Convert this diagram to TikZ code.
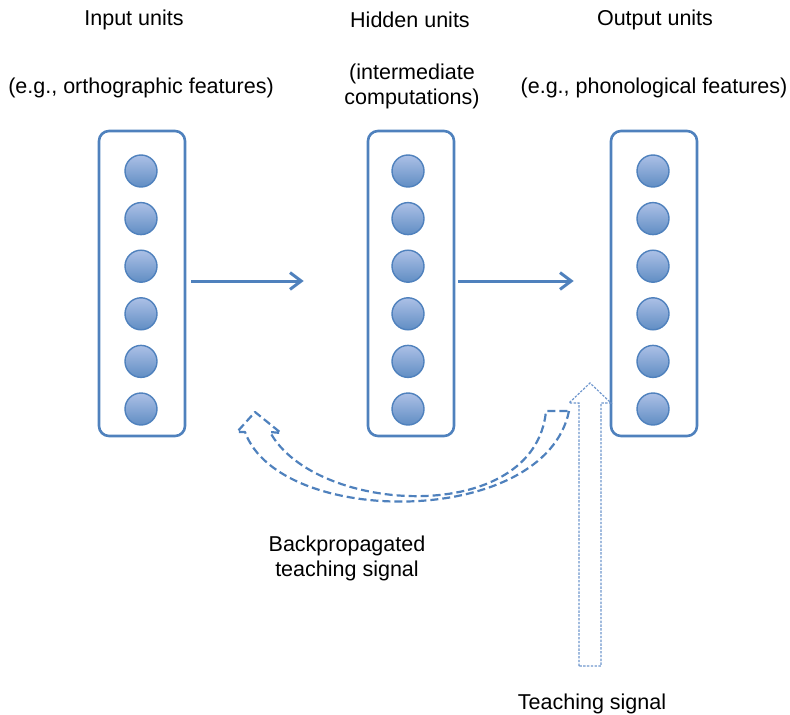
\documentclass[tikz,border=0pt]{standalone}
\usepackage{fontspec}
\setmainfont{Liberation Sans}
\usepackage{xcolor}
\usetikzlibrary{positioning}
\usetikzlibrary{arrows.meta}
\definecolor{officeblue}{RGB}{79,129,189}
\definecolor{lightunit}{RGB}{172,192,230}
\definecolor{dotblue}{RGB}{110,150,205}

\begin{document}
\begin{tikzpicture}[x=0.25mm, y=-0.25mm, font=\fontsize{15.3}{17.8}\selectfont]
    \tikzstyle{layer}=[draw=officeblue, line width=0.65mm, rounded corners=2.5mm, minimum width=21.5mm, minimum height=76.25mm, inner sep=0pt]
    \tikzstyle{unit}=[circle, draw=officeblue, line width=0.35mm, top color=lightunit, bottom color=officeblue!90, minimum size=8mm, inner sep=0pt]
    \tikzstyle{flow}=[draw=officeblue, line width=0.75mm, -{Straight Barb[length=2.8mm, width=4.2mm, line width=0.75mm]}]
    \tikzstyle{backsig}=[draw=officeblue, line width=0.55mm, dash pattern=on 2mm off 1mm, line join=round]
    \tikzstyle{teachsig}=[draw=dotblue, line width=0.3mm, dash pattern=on 0.6mm off 0.35mm]
    \tikzstyle{label}=[align=center, inner sep=0pt]

    \useasboundingbox (0,0) rectangle (790,715);

    % layers
    \node[layer] (inbox) at (142,283.5) {};
    \node[layer] (hidbox) at (411,283.5) {};
    \node[layer] (outbox) at (654,283.5) {};

    \foreach \i in {1,...,6} {
        \node[unit] (in\i) at (141,{171+47.6*(\i-1)}) {};
        \node[unit] (hid\i) at (408,{171+47.6*(\i-1)}) {};
        \node[unit] (out\i) at (653,{171+47.6*(\i-1)}) {};
    }

    % headings
    \node[label] (inhead) at (134,20) {Input units};
    \node[label] (hidhead) at (410,20) {Hidden units};
    \node[label] (outhead) at (655,20) {Output units};
    \node[label] (indesc) at (141,88) {(e.g., orthographic features)};
    \node[label] (hiddesc) at (412,86) {(intermediate\\computations)};
    \node[label] (outdesc) at (654,88) {(e.g., phonological features)};

    % forward flow
    \draw[flow] ([shift={(5,-2.5)}] inbox.east) -- ([shift={(-63,-2.5)}] hidbox.west);
    \draw[flow] ([shift={(3,-2.5)}] hidbox.east) -- ([shift={(-36,-2.5)}] outbox.west);

    % backpropagated signal
    \coordinate (bpL) at (245,432);
    \coordinate (bpR) at (569,411);
    \draw[backsig] (bpR) .. controls (545,528) and (280,528) .. (bpL)
        -- (237,432) -- (255,412) -- (281,433) -- (270,432)
        .. controls (315,515) and (535,527) .. (546,411) -- cycle;
    \node[label] (bplabel) at (347,558) {Backpropagated\\teaching signal};

    % teaching signal
    \coordinate (tsbase) at (590,666);
    \draw[teachsig] (579,666) -- (579,403) -- (569,403) -- (590,383) -- (611,403)
        -- (601,403) -- (601,666) -- cycle;
    \node[label] (tslabel) at (592,704) {Teaching signal};

\end{tikzpicture}
\end{document}
